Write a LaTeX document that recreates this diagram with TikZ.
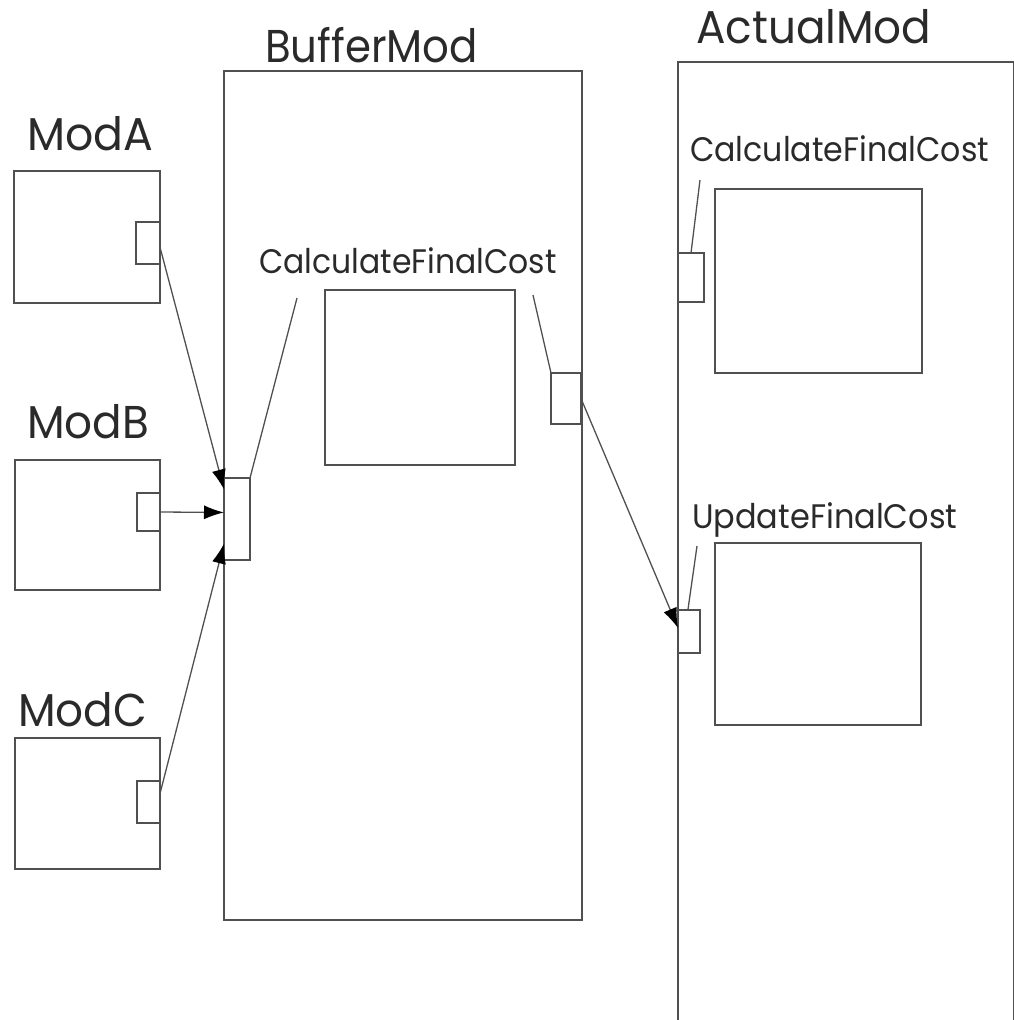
\documentclass[tikz,border=0pt]{standalone}
\usepackage{fontspec}
\setmainfont{Poppins}
\usetikzlibrary{arrows.meta,calc}
\definecolor{ln}{HTML}{505050}
\definecolor{tx}{HTML}{2A2A2A}
\tikzset{
  box/.style={draw=ln, line width=1.6pt, inner sep=0pt, outer sep=0pt, anchor=north west},
  big/.style={anchor=base west, inner sep=0pt, text=tx, font=\fontsize{46}{46}\selectfont},
  small/.style={anchor=base west, inner sep=0pt, text=tx, font=\fontsize{34}{34}\selectfont},
  conn/.style={draw=ln, line width=1.3pt},
  arr/.style={conn, -{Latex[length=20pt,width=14pt,fill=black,color=black]}}
}
\begin{document}
\begin{tikzpicture}[x=1pt,y=-1pt]
\useasboundingbox (0,0) rectangle (1013,1020);
% labels
\node[big] (lBuf) at (265,62) {\scalebox{0.91}[1]{BufferMod}};
\node[big] (lAct) at (696,43) {\scalebox{0.95}[1]{ActualMod}};
\node[big] (lA) at (27,150) {\scalebox{0.96}[1]{ModA}};
\node[big] (lB) at (27,438) {\scalebox{0.95}[1]{ModB}};
\node[big] (lC) at (18,726) {\scalebox{0.95}[1]{ModC}};
\node[small] (lBcalc) at (259,273) {\scalebox{0.925}[1]{CalculateFinalCost}};
\node[small] (lAcalc) at (690,161) {\scalebox{0.93}[1]{CalculateFinalCost}};
\node[small] (lAupd) at (692,528) {\scalebox{0.94}[1]{UpdateFinalCost}};
% big boxes
\node[box, minimum width=358pt, minimum height=849pt] (buf) at (224,71) {};
\node[box, minimum width=336pt, minimum height=980pt] (act) at (678,62) {};
% modules
\node[box, minimum width=146pt, minimum height=132pt] (modA) at (14,171) {};
\node[box, minimum width=24pt, minimum height=42pt] (pA) at (136,222) {};
\node[box, minimum width=145pt, minimum height=130pt] (modB) at (15,460) {};
\node[box, minimum width=23pt, minimum height=38pt] (pB) at (137,493) {};
\node[box, minimum width=145pt, minimum height=131pt] (modC) at (15,738) {};
\node[box, minimum width=23pt, minimum height=42pt] (pC) at (137,781) {};
% buffer internals
\node[box, minimum width=26pt, minimum height=82pt] (bIn) at (224,478) {};
\node[box, minimum width=190pt, minimum height=175pt] (bCalc) at (325,290) {};
\node[box, minimum width=30pt, minimum height=51pt] (bOut) at (551,373) {};
% actual internals
\node[box, minimum width=26pt, minimum height=49pt] (aCp) at (678,253) {};
\node[box, minimum width=207pt, minimum height=184pt] (aCalc) at (715,189) {};
\node[box, minimum width=22pt, minimum height=43pt] (aUp) at (678,610) {};
\node[box, minimum width=206pt, minimum height=182pt] (aUpd) at (715,543) {};
% leader line ends
\coordinate (kB1) at (297,298);
\coordinate (kB2) at (533,295);
\coordinate (kA1) at (700,180);
\coordinate (kA2) at (697,546);
\draw[conn] (kB1) -- (bIn.north east);
\draw[conn] (kB2) -- (bOut.north west);
\draw[conn] (kA1) -- ($(aCp.north west)!0.5!(aCp.north east)$);
\draw[conn] (kA2) -- ($(aUp.north west)!0.45!(aUp.north east)$);
% arrows
\draw[arr] ($(pA.north east)!0.6!(pA.south east)$) -- ($(bIn.north west)!0.14!(bIn.south west)$);
\draw[arr] ($(pB.north east)!0.5!(pB.south east)$) -- ($(bIn.north west)!0.42!(bIn.south west)$);
\draw[arr] ($(pC.north east)!0.3!(pC.south east)$) -- ($(bIn.north west)!0.8!(bIn.south west)$);
\draw[arr] (bOut.east) -- ($(aUp.north west)!0.42!(aUp.south west)$);
\end{tikzpicture}
\end{document}
